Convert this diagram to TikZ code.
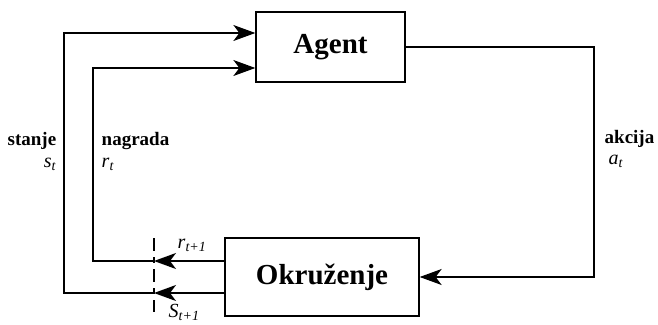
\documentclass[tikz,border=0pt]{standalone}
\usepackage{fontspec}
\setmainfont{Liberation Serif}
\usetikzlibrary{arrows.meta}
\newcommand{\sig}[2]{\textit{#1}\textsubscript{\textit{#2}}}

\begin{document}
\begin{tikzpicture}[x=1pt,y=-1pt,line width=1.4pt,
  box/.style={draw,line width=1.3pt,inner sep=0pt,
    font=\fontsize{29}{33}\selectfont\bfseries},
  lbl/.style={anchor=base west,inner sep=0pt,
    font=\fontsize{19}{22}\selectfont\bfseries},
  sym/.style={anchor=base west,inner sep=0pt,
    font=\fontsize{20}{22}\selectfont},
  flow/.style={-{Stealth[length=22pt,width=16pt,inset=6pt]}}]
  \useasboundingbox (0,0) rectangle (658,324);

  \def\lx{64}
  \def\ix{93}
  \def\cx{154}
  \def\ax{594}

  \node[box,minimum width=149pt,minimum height=70pt] (agent) at (330.5,47) {Agent};
  \node[box,minimum width=194pt,minimum height=78pt] (okr) at (322,277) {Okruženje};

  \coordinate (s1) at (\cx,293);
  \coordinate (r1) at (\cx,261);
  \coordinate (sa) at (\lx,293);
  \coordinate (sb) at (\lx,33);
  \coordinate (ra) at (\ix,261);
  \coordinate (rb) at (\ix,68);
  \coordinate (act) at (\ax,277);
  \coordinate (cuttop) at (\cx,238);
  \coordinate (cutbot) at (\cx,312);

  % feedback from the environment
  \draw[flow] (okr.west |- s1) -- (s1);
  \draw[flow] (okr.west |- r1) -- (r1);
  \draw[flow] (s1) -- (sa) -- (sb) -- (agent.west |- sb);
  \draw[flow] (r1) -- (ra) -- (rb) -- (agent.west |- rb);
  \draw[line width=1.2pt,dash pattern=on 13pt off 6pt on 6pt off 6pt] (cuttop) -- (cutbot);

  % action
  \draw[flow] (agent.east) -| (act) -- (okr.east);

  \node[lbl] (stanje) at (7,145) {stanje};
  \node[sym,anchor=base east] (st) at (57,167) {\sig{s}{t}};
  \node[lbl] (nagrada) at (101,145) {nagrada};
  \node[sym] (rt) at (101,167) {\sig{r}{t}};
  \node[lbl] (akcija) at (604,143) {akcija};
  \node[sym] (at) at (608,164) {\sig{a}{t}};
  \node[sym] (rnext) at (177,248) {\sig{r}{t+1}};
  \node[sym] (snext) at (168,317) {\sig{S}{t+1}};

\end{tikzpicture}
\end{document}
